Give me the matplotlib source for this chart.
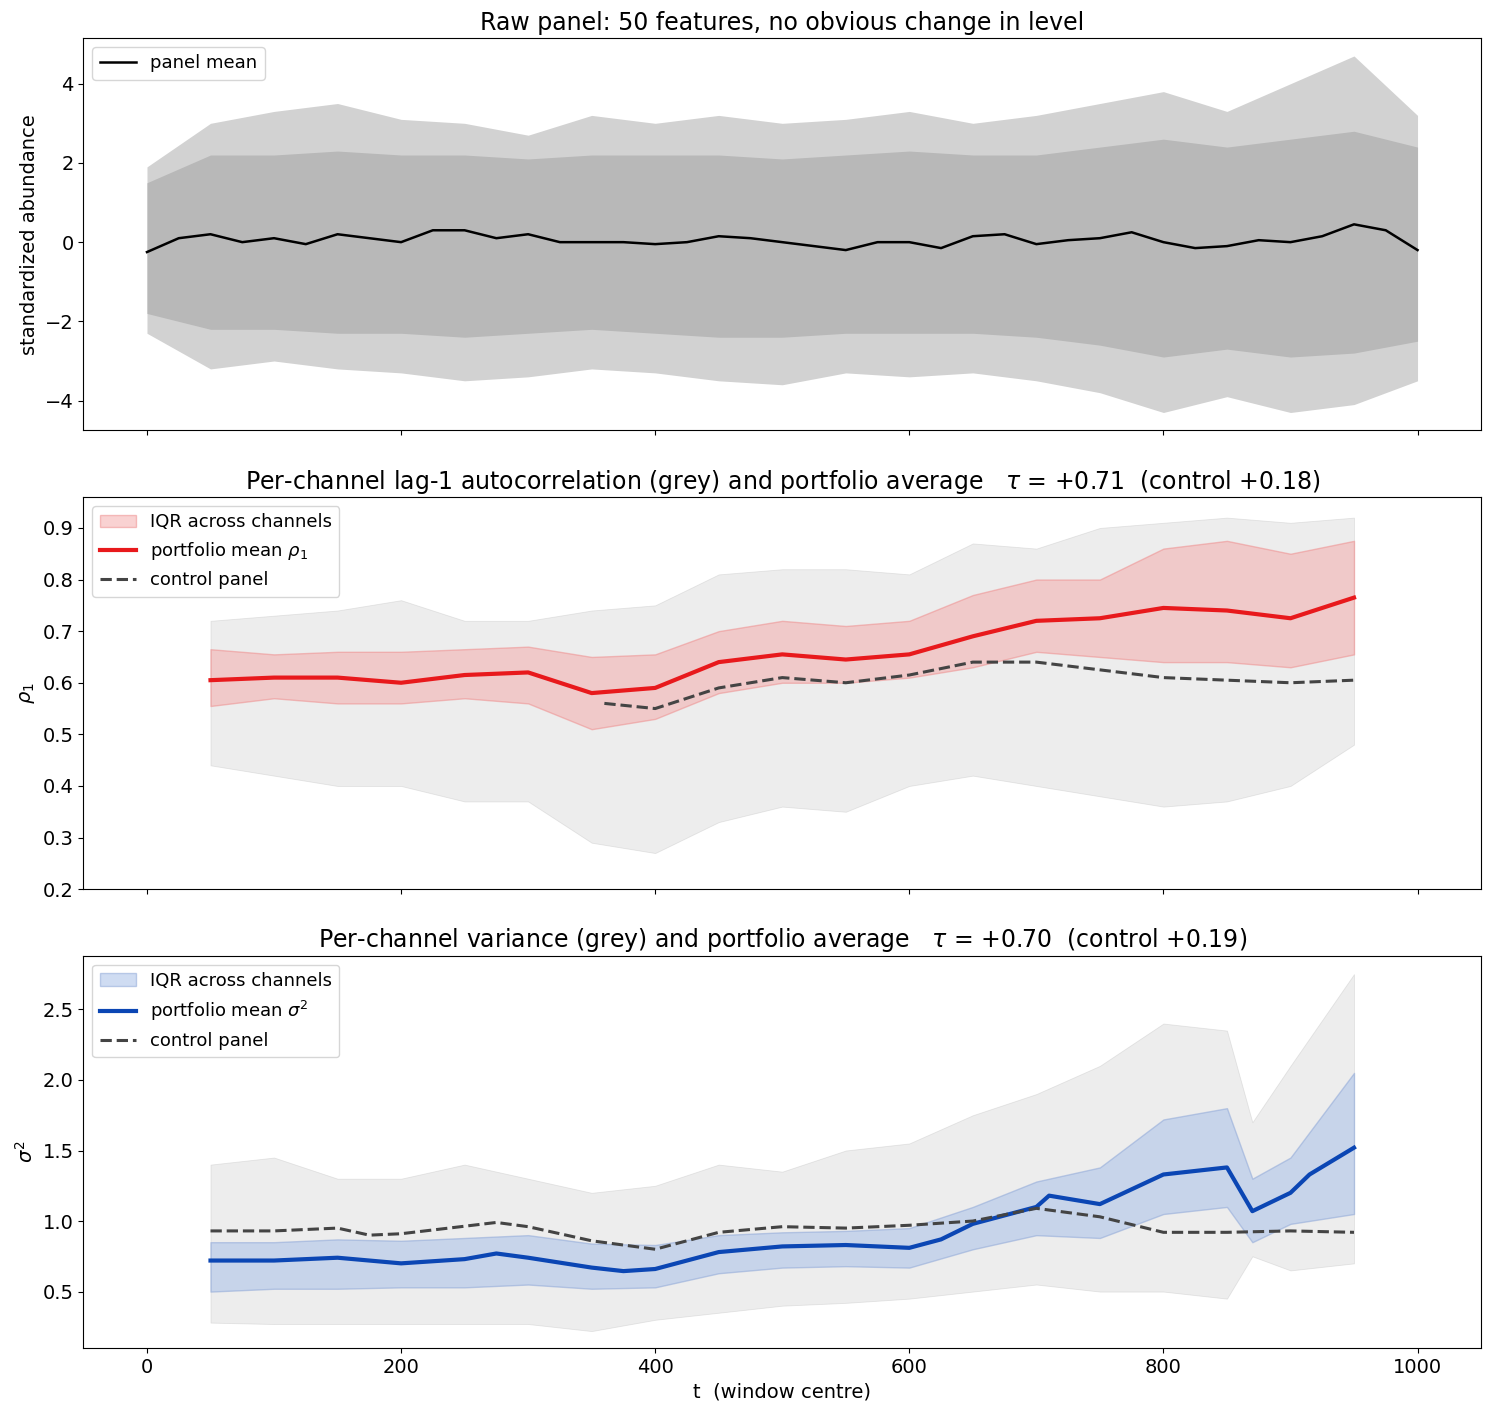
import numpy as np
import matplotlib
matplotlib.use("Agg")
import matplotlib.pyplot as plt

# raw panel
t_raw = list(range(0, 1001, 50))
raw_hi = [1.9,3.0,3.3,3.5,3.1,3.0,2.7,3.2,3.0,3.2,3.0,3.1,3.3,3.0,3.2,3.5,3.8,3.3,4.0,4.7,3.2]
raw_lo = [-2.3,-3.2,-3.0,-3.2,-3.3,-3.5,-3.4,-3.2,-3.3,-3.5,-3.6,-3.3,-3.4,-3.3,-3.5,-3.8,-4.3,-3.9,-4.3,-4.1,-3.5]
raw_core_hi = [1.5,2.2,2.2,2.3,2.2,2.2,2.1,2.2,2.2,2.2,2.1,2.2,2.3,2.2,2.2,2.4,2.6,2.4,2.6,2.8,2.4]
raw_core_lo = [-1.8,-2.2,-2.2,-2.3,-2.3,-2.4,-2.3,-2.2,-2.3,-2.4,-2.4,-2.3,-2.3,-2.3,-2.4,-2.6,-2.9,-2.7,-2.9,-2.8,-2.5]
t_mean = list(range(0, 1001, 25))
panel_mean = [-0.25,0.1,0.2,0.0,0.1,-0.05,0.2,0.1,0.0,0.3,0.3,0.1,0.2,0.0,0.0,0.0,-0.05,0.0,0.15,0.1,0.0,
              -0.1,-0.2,0.0,0.0,-0.15,0.15,0.2,-0.05,0.05,0.1,0.25,0.0,-0.15,-0.1,0.05,0.0,0.15,0.45,0.3,-0.2]

# windows
t_w = [50,100,150,200,250,300,350,400,450,500,550,600,650,700,750,800,850,900,950]
rho_mean = [0.605,0.61,0.61,0.60,0.615,0.62,0.58,0.59,0.64,0.655,0.645,0.655,0.69,0.72,0.725,0.745,0.74,0.725,0.765]
rho_q1 = [0.555,0.57,0.56,0.56,0.57,0.56,0.51,0.53,0.58,0.60,0.60,0.61,0.63,0.66,0.65,0.64,0.64,0.63,0.655]
rho_q3 = [0.665,0.655,0.66,0.66,0.665,0.67,0.65,0.655,0.70,0.72,0.71,0.72,0.77,0.80,0.80,0.86,0.875,0.85,0.875]
rho_min = [0.44,0.42,0.40,0.40,0.37,0.37,0.29,0.27,0.33,0.36,0.35,0.40,0.42,0.40,0.38,0.36,0.37,0.40,0.48]
rho_max = [0.72,0.73,0.74,0.76,0.72,0.72,0.74,0.75,0.81,0.82,0.82,0.81,0.87,0.86,0.90,0.91,0.92,0.91,0.92]
t_rc = [360,400,450,500,550,600,650,700,750,800,850,900,950]
rho_ctrl = [0.56,0.55,0.59,0.61,0.60,0.615,0.64,0.64,0.625,0.61,0.605,0.60,0.605]

t_v = [50,100,150,200,250,275,300,350,375,400,450,500,550,600,625,650,700,710,750,800,850,870,900,915,950]
var_mean = [0.72,0.72,0.74,0.70,0.73,0.77,0.74,0.67,0.645,0.66,0.78,0.82,0.83,0.81,0.87,0.98,1.10,1.18,1.12,1.33,1.38,1.07,1.20,1.33,1.52]
t_vq = [50,100,150,200,250,300,350,400,450,500,550,600,650,700,750,800,850,870,900,950]
var_q1 = [0.5,0.52,0.52,0.53,0.53,0.55,0.52,0.53,0.63,0.67,0.68,0.67,0.80,0.90,0.88,1.05,1.10,0.85,0.98,1.05]
var_q3 = [0.85,0.85,0.87,0.86,0.88,0.90,0.84,0.83,0.90,0.92,0.93,0.95,1.10,1.28,1.38,1.72,1.80,1.30,1.45,2.05]
var_min = [0.28,0.27,0.27,0.27,0.27,0.27,0.22,0.30,0.35,0.40,0.42,0.45,0.50,0.55,0.50,0.50,0.45,0.75,0.65,0.70]
var_max = [1.40,1.45,1.30,1.30,1.40,1.30,1.20,1.25,1.40,1.35,1.50,1.55,1.75,1.90,2.10,2.40,2.35,1.70,2.10,2.75]
t_vc = [50,100,150,175,200,275,300,350,400,450,500,550,600,650,700,750,800,850,900,950]
var_ctrl = [0.93,0.93,0.95,0.90,0.91,0.99,0.96,0.86,0.80,0.92,0.96,0.95,0.97,1.00,1.09,1.03,0.92,0.92,0.93,0.92]

fig, axes = plt.subplots(3, 1, figsize=(14.9, 14.13), dpi=100, sharex=True)
fig.subplots_adjust(left=0.056, right=0.994, top=0.973, bottom=0.046, hspace=0.17)
ax1, ax2, ax3 = axes

ax1.fill_between(t_raw, raw_lo, raw_hi, color="#d2d2d2", lw=0)
ax1.fill_between(t_raw, raw_core_lo, raw_core_hi, color="#b8b8b8", lw=0)
ax1.plot(t_mean, panel_mean, color="black", lw=1.8, label="panel mean")
ax1.set_ylabel("standardized abundance", fontsize=14)
ax1.set_title("Raw panel: 50 features, no obvious change in level", fontsize=17)
ax1.legend(loc="upper left", fontsize=13)

ax2.fill_between(t_w, rho_min, rho_max, color="#cccccc", alpha=0.35, lw=0.6, edgecolor="#bbbbbb")
ax2.fill_between(t_w, rho_q1, rho_q3, color="#f4a6a6", alpha=0.5, lw=1, edgecolor="#e88", label="IQR across channels")
ax2.plot(t_w, rho_mean, color="#e8191c", lw=3, label=r"portfolio mean $\rho_1$")
ax2.plot(t_rc, rho_ctrl, color="#444444", lw=2.2, ls="--", label="control panel")
ax2.set_ylim(0.2, 0.96)
ax2.set_ylabel(r"$\rho_1$", fontsize=14)
ax2.set_title(r"Per-channel lag-1 autocorrelation (grey) and portfolio average   $\tau$ = +0.71  (control +0.18)", fontsize=17)
ax2.legend(loc="upper left", fontsize=13)

ax3.fill_between(t_vq, var_min, var_max, color="#cccccc", alpha=0.35, lw=0.6, edgecolor="#bbbbbb")
ax3.fill_between(t_vq, var_q1, var_q3, color="#a9c0e8", alpha=0.55, lw=1, edgecolor="#8fa8d8", label="IQR across channels")
ax3.plot(t_v, var_mean, color="#0b46b4", lw=3, label=r"portfolio mean $\sigma^2$")
ax3.plot(t_vc, var_ctrl, color="#444444", lw=2.2, ls="--", label="control panel")
ax3.set_ylim(0.1, 2.88)
ax3.set_ylabel(r"$\sigma^2$", fontsize=14)
ax3.set_title(r"Per-channel variance (grey) and portfolio average   $\tau$ = +0.70  (control +0.19)", fontsize=17)
ax3.legend(loc="upper left", fontsize=13)
ax3.set_xlabel("t  (window centre)", fontsize=14)
ax3.set_xlim(-50, 1050)

for ax in axes:
    ax.tick_params(labelsize=14)

fig.savefig("out.png")
